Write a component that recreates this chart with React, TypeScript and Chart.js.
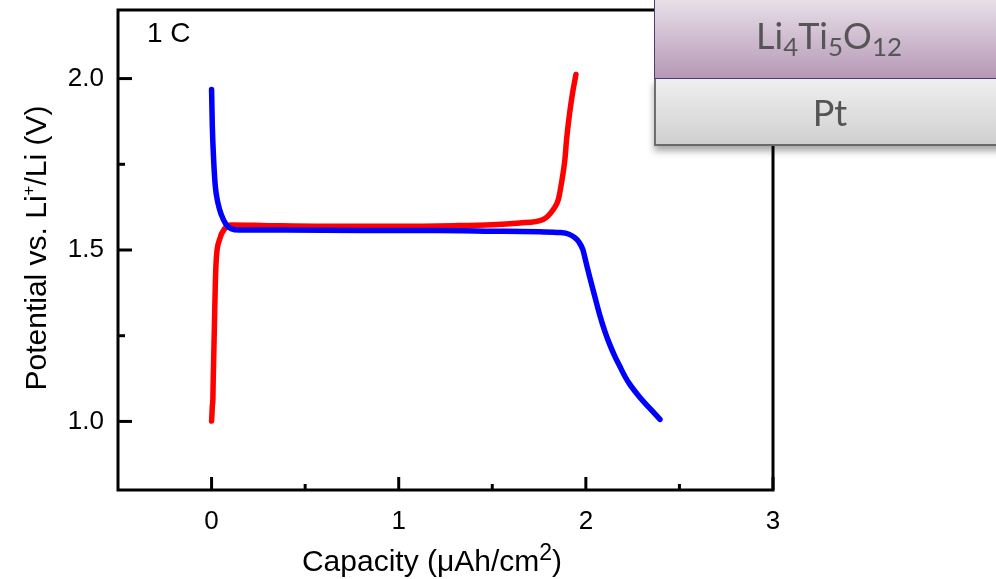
import React, { useEffect, useRef } from "react";
import { Chart, registerables } from "chart.js";

Chart.register(...registerables);

// Discharge (blue) curve
const blueCapacity = [0, 0.004, 0.011, 0.02, 0.034, 0.052, 0.078, 0.105, 0.15, 0.4, 0.8, 1.2, 1.5, 1.75, 1.861, 1.91, 1.941, 1.962, 1.984, 2.0, 2.021, 2.048, 2.075, 2.102, 2.128, 2.155, 2.182, 2.209, 2.235, 2.289, 2.342, 2.396];
const bluePotential = [1.968, 1.861, 1.764, 1.686, 1.637, 1.603, 1.574, 1.562, 1.558, 1.558, 1.557, 1.557, 1.555, 1.553, 1.551, 1.546, 1.536, 1.524, 1.501, 1.466, 1.42, 1.364, 1.309, 1.262, 1.224, 1.19, 1.16, 1.131, 1.108, 1.07, 1.038, 1.006];

// Charge (red) curve
const redCapacity = [0, 0.002, 0.004, 0.007, 0.008, 0.012, 0.016, 0.02, 0.025, 0.043, 0.07, 0.105, 0.3, 0.6, 1.0, 1.3, 1.5, 1.647, 1.772, 1.826, 1.853, 1.87, 1.888, 1.897, 1.911, 1.929, 1.947];
const redPotential = [1.001, 1.02, 1.045, 1.064, 1.1, 1.2, 1.3, 1.4, 1.472, 1.531, 1.562, 1.573, 1.571, 1.569, 1.569, 1.571, 1.574, 1.579, 1.589, 1.618, 1.647, 1.696, 1.764, 1.822, 1.89, 1.958, 2.012];

const xMajorTicks = [0, 1, 2, 3];
const xMinorTicks = [0.5, 1.5, 2.5];
const xTickLabels = ["0", "1", "2", "3"];
const yMajorTicks = [1.0, 1.5, 2.0];
const yMinorTicks = [1.25, 1.75];
const yTickLabels = ["1.0", "1.5", "2.0"];

// axis titles: [text, superscript, rest]
const xTitleParts = ["Capacity (\u03bcAh/cm", "2", ")"];
const yTitleParts = ["Potential vs. Li", "+", "/Li (V)"];
const rateLabel = "1 C";

const FONT = "'Liberation Sans', Arial, sans-serif";

const frameTicksPlugin = {
  id: "frameTicks",
  afterDatasetsDraw(chart: any) {
    const { ctx, chartArea, scales } = chart;
    const { left, right, top, bottom } = chartArea;
    const x = scales.x;
    const y = scales.y;
    ctx.save();
    ctx.strokeStyle = "#000";
    ctx.lineWidth = 3;
    ctx.lineCap = "butt";
    ctx.strokeRect(left, top, right - left, bottom - top);
    const tick = (x1: number, y1: number, x2: number, y2: number) => {
      ctx.beginPath();
      ctx.moveTo(x1, y1);
      ctx.lineTo(x2, y2);
      ctx.stroke();
    };
    xMajorTicks.forEach((v) => {
      const px = x.getPixelForValue(v);
      tick(px, bottom, px, bottom - 13);
    });
    xMinorTicks.forEach((v) => {
      const px = x.getPixelForValue(v);
      tick(px, bottom, px, bottom - 6);
    });
    yMajorTicks.forEach((v) => {
      const py = y.getPixelForValue(v);
      tick(left, py, left + 14, py);
    });
    yMinorTicks.forEach((v) => {
      const py = y.getPixelForValue(v);
      tick(left, py, left + 7, py);
    });
    ctx.restore();
  },
};

function drawSupText(ctx: any, parts: string[], cx: number, baseline: number, size: number, supSize: number, raise: number) {
  const main = `${size}px ${FONT}`;
  const sup = `${supSize}px ${FONT}`;
  ctx.font = main;
  const w1 = ctx.measureText(parts[0]).width;
  const w3 = ctx.measureText(parts[2]).width;
  ctx.font = sup;
  const w2 = ctx.measureText(parts[1]).width;
  let x = cx - (w1 + w2 + w3) / 2;
  ctx.textAlign = "left";
  ctx.textBaseline = "alphabetic";
  ctx.font = main;
  ctx.fillText(parts[0], x, baseline);
  x += w1;
  ctx.font = sup;
  ctx.fillText(parts[1], x, baseline - raise);
  x += w2;
  ctx.font = main;
  ctx.fillText(parts[2], x, baseline);
}

const titlesPlugin = {
  id: "axisTitles",
  afterDraw(chart: any) {
    const { ctx } = chart;
    ctx.save();
    ctx.fillStyle = "#000";
    drawSupText(ctx, xTitleParts, 432, 571, 30, 23, 11);
    ctx.translate(46, 248);
    ctx.rotate(-Math.PI / 2);
    drawSupText(ctx, yTitleParts, 0, 0, 30, 17, 12);
    ctx.restore();
  },
};

export default function App() {
  const canvasRef = useRef<HTMLCanvasElement | null>(null);

  useEffect(() => {
    const canvas = canvasRef.current;
    if (!canvas) return;
    const chart = new Chart(canvas, {
      type: "scatter",
      data: {
        datasets: [
          {
            label: "discharge",
            data: blueCapacity.map((c, i) => ({ x: c, y: bluePotential[i] })),
            showLine: true,
            borderColor: "#0000ff",
            backgroundColor: "#0000ff",
            borderWidth: 5.5,
            pointRadius: 0,
            cubicInterpolationMode: "monotone",
            borderCapStyle: "round",
            borderJoinStyle: "round",
          },
          {
            label: "charge",
            data: redCapacity.map((c, i) => ({ x: c, y: redPotential[i] })),
            showLine: true,
            borderColor: "#ff0000",
            backgroundColor: "#ff0000",
            borderWidth: 5.5,
            pointRadius: 0,
            cubicInterpolationMode: "monotone",
            borderCapStyle: "round",
            borderJoinStyle: "round",
          },
        ],
      },
      options: {
        responsive: false,
        animation: false,
        devicePixelRatio: 1,
        layout: { padding: { left: 0, right: 223, top: 10, bottom: 0 } },
        plugins: {
          legend: { display: false },
          tooltip: { enabled: false },
        },
        scales: {
          x: {
            type: "linear",
            min: -0.5,
            max: 3,
            grid: { display: false, drawTicks: false },
            border: { display: false },
            afterBuildTicks: (scale: any) => {
              scale.ticks = xMajorTicks.map((v) => ({ value: v }));
            },
            afterFit: (scale: any) => {
              scale.height = 89;
              scale.paddingLeft = 0;
              scale.paddingRight = 0;
            },
            ticks: {
              color: "#000",
              padding: 16,
              maxRotation: 0,
              font: { family: FONT, size: 26 },
              callback: (_v: any, i: number) => xTickLabels[i],
            },
            title: { display: false },
          },
          y: {
            type: "linear",
            min: 0.8,
            max: 2.2,
            grid: { display: false, drawTicks: false },
            border: { display: false },
            afterBuildTicks: (scale: any) => {
              scale.ticks = yMajorTicks.map((v) => ({ value: v }));
            },
            afterFit: (scale: any) => {
              scale.width = 118;
              scale.paddingTop = 0;
              scale.paddingBottom = 0;
            },
            ticks: {
              color: "#000",
              padding: 14,
              font: { family: FONT, size: 26 },
              callback: (_v: any, i: number) => yTickLabels[i],
            },
            title: { display: false },
          },
        },
      },
      plugins: [frameTicksPlugin, titlesPlugin],
    } as any);
    return () => chart.destroy();
  }, []);

  const boxText: React.CSSProperties = {
    fontFamily: "Lato, 'Open Sans', sans-serif",
    color: "#555",
    fontSize: 36,
    textAlign: "center",
    position: "absolute",
    left: 0,
    width: 348,
  };
  const subStyle: React.CSSProperties = { fontSize: "0.72em", verticalAlign: "-0.28em", lineHeight: 0 };

  return (
    <div style={{ position: "fixed", left: 0, top: 0, width: 996, height: 579, background: "#fff", overflow: "hidden" }}>
      <canvas ref={canvasRef} width={996} height={579} style={{ width: 996, height: 579, display: "block" }} />
      <div
        style={{
          position: "absolute",
          left: 147,
          top: 18,
          fontFamily: FONT,
          fontSize: 28,
          color: "#000",
          lineHeight: "30px",
          whiteSpace: "pre",
        }}
      >
        {rateLabel}
      </div>
      <div
        style={{
          position: "absolute",
          left: 654,
          top: 79,
          width: 360,
          height: 67,
          boxSizing: "border-box",
          background: "linear-gradient(#efefef, #d0d0d0)",
          borderLeft: "2px solid #6e6e6e",
          borderBottom: "2px solid #6a6a6a",
          boxShadow: "0 5px 7px rgba(0,0,0,0.35)",
        }}
      >
        <div style={{ ...boxText, top: 13, lineHeight: "40px" }}>Pt</div>
      </div>
      <div
        style={{
          position: "absolute",
          left: 654,
          top: -2,
          width: 360,
          height: 81,
          boxSizing: "border-box",
          background: "linear-gradient(#e9e1ea, #b698b6)",
          borderLeft: "1px solid #4a3d7a",
          borderBottom: "1px solid #4a3d7a",
        }}
      >
        <div style={{ ...boxText, top: 17, lineHeight: "40px" }}>
          Li<sub style={subStyle}>4</sub>Ti<sub style={subStyle}>5</sub>O<sub style={subStyle}>12</sub>
        </div>
      </div>
    </div>
  );
}
